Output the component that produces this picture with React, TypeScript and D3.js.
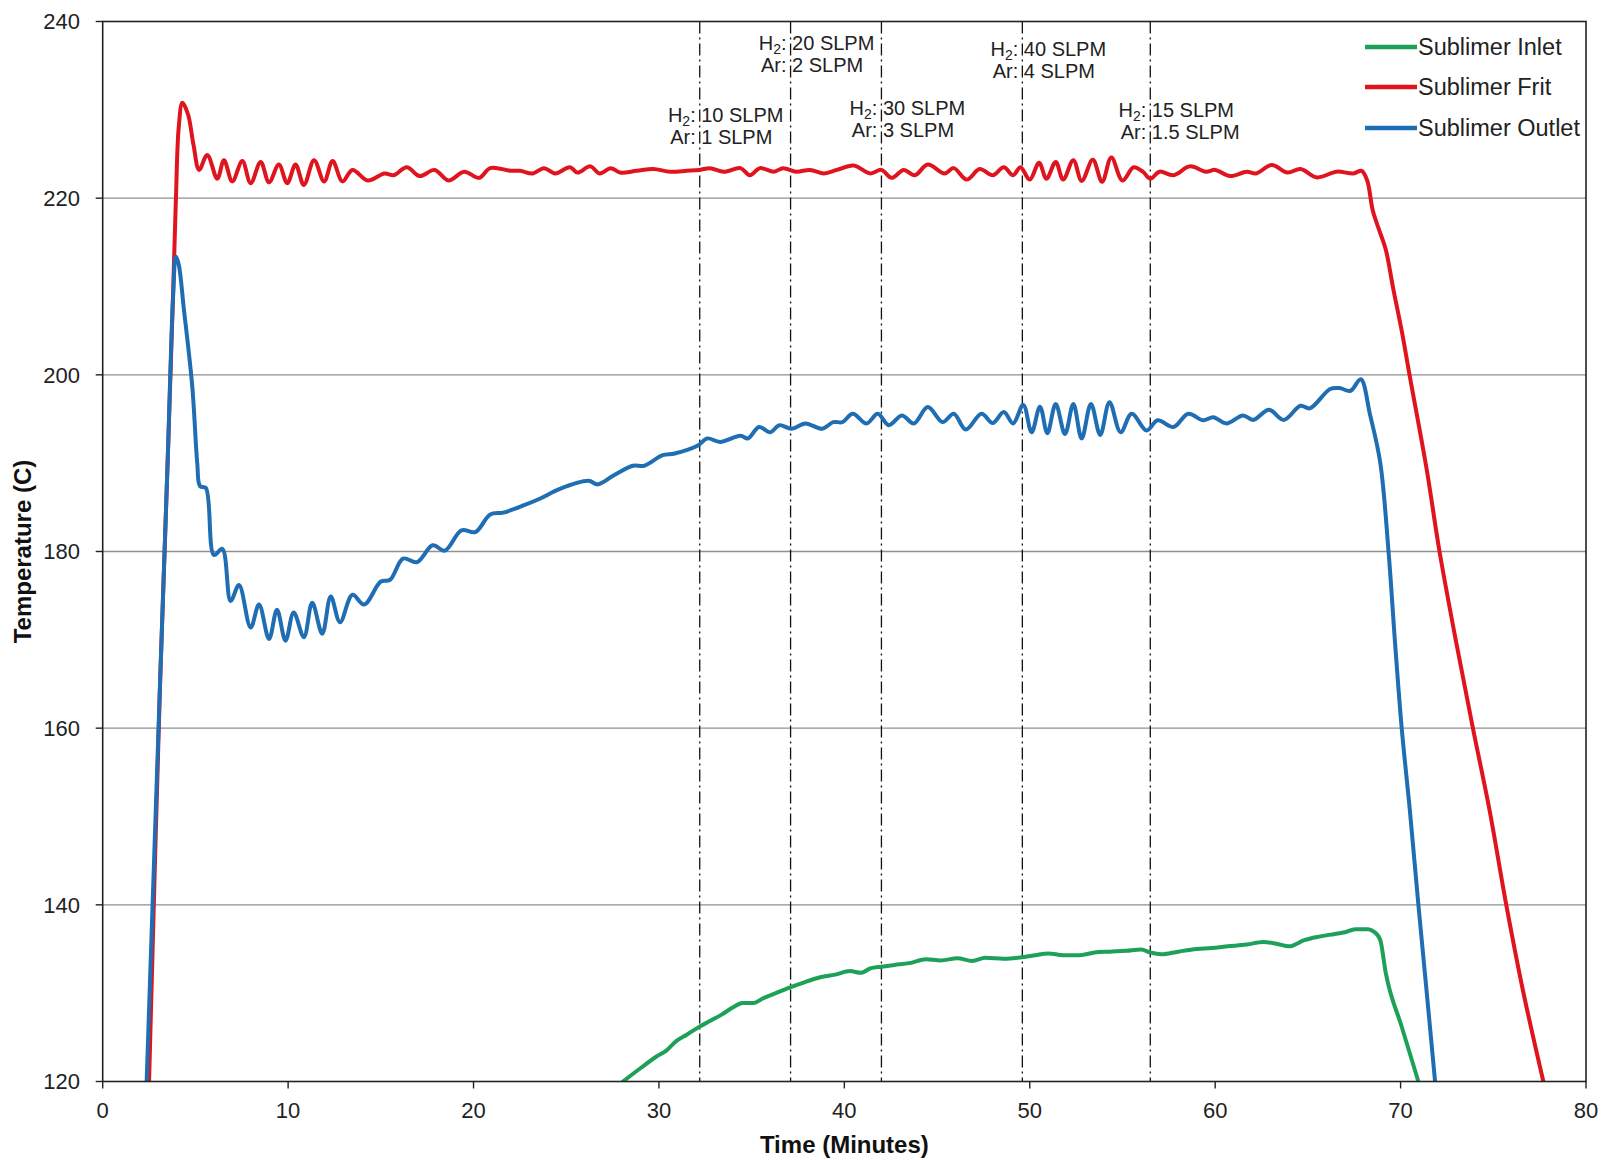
import React from "react";
import * as d3 from "d3";

// ---------- DATA ----------
const xTicks = [0, 10, 20, 30, 40, 50, 60, 70, 80];
const yTicks = [120, 140, 160, 180, 200, 220, 240];

const seriesNames = ["Sublimer Inlet", "Sublimer Frit", "Sublimer Outlet"];

const inletTime = [28.06, 29.0, 29.85, 30.4, 30.95, 31.5, 32.1, 32.8, 33.4, 34.0, 34.5, 35.1, 35.6, 36.3, 37.0, 37.8, 38.7, 39.5, 40.3, 40.9, 41.4, 42.0, 42.7, 43.5, 44.4, 45.2, 46.1, 46.9, 47.6, 48.6, 49.7, 50.3, 51.0, 51.8, 52.7, 53.5, 54.3, 55.2, 56.0, 56.5, 57.1, 58.0, 59.0, 59.8, 60.7, 61.7, 62.6, 63.3, 64.0, 64.8, 65.6, 66.45, 67.0, 67.55, 68.25, 68.6, 68.9, 69.2, 70.06, 70.96];
const inletTemp = [120, 121.5, 122.8, 123.5, 124.6, 125.3, 126.1, 126.9, 127.6, 128.4, 128.9, 128.9, 129.4, 130.0, 130.6, 131.2, 131.8, 132.1, 132.5, 132.3, 132.8, 133.0, 133.2, 133.4, 133.85, 133.7, 133.95, 133.65, 134.0, 133.9, 134.1, 134.3, 134.5, 134.3, 134.3, 134.6, 134.7, 134.8, 134.95, 134.6, 134.4, 134.7, 135.0, 135.1, 135.3, 135.5, 135.8, 135.6, 135.3, 136.0, 136.4, 136.7, 136.9, 137.25, 137.25, 136.9, 136.05, 132.3, 126.2, 120];

const fritTime = [2.5, 3.1, 3.5, 3.8, 3.95, 4.1, 4.3, 4.6, 4.9, 5.2, 5.64, 6.18, 6.54, 6.99, 7.53, 7.98, 8.52, 8.97, 9.5, 9.95, 10.4, 10.85, 11.4, 11.94, 12.4, 12.93, 13.47, 14.3, 15.2, 15.7, 16.4, 17.1, 17.9, 18.65, 19.5, 20.3, 20.9, 22.0, 22.5, 23.2, 23.8, 24.4, 25.2, 25.6, 26.3, 26.8, 27.4, 27.9, 28.8, 29.7, 30.6, 31.5, 32.2, 32.75, 33.5, 34.4, 34.9, 35.45, 36.2, 36.7, 37.4, 38.15, 38.9, 39.6, 40.5, 41.4, 42.0, 42.55, 43.2, 43.8, 44.5, 45.4, 45.9, 46.6, 47.3, 48.0, 48.6, 49.1, 49.5, 50.0, 50.5, 50.9, 51.4, 51.8, 52.35, 52.8, 53.4, 53.9, 54.4, 55.0, 55.6, 56.1, 56.5, 57.0, 57.75, 58.65, 59.5, 60.0, 60.8, 61.7, 62.2, 63.05, 63.9, 64.6, 65.5, 66.55, 67.45, 67.9, 68.2, 68.5, 68.86, 69.2, 69.6, 70.06, 70.5, 71.4, 72.1, 73.0, 73.9, 74.8, 75.7, 76.6, 77.7];
const fritTemp = [120, 165.5, 190, 209.5, 220, 228, 230.8, 229.5, 226, 223.2, 224.9, 222.2, 224.3, 221.9, 224.2, 221.7, 224.1, 221.8, 223.8, 221.7, 223.8, 221.5, 224.3, 221.9, 224.2, 221.9, 223.2, 222.0, 222.8, 222.6, 223.5, 222.5, 223.2, 222.0, 223.0, 222.3, 223.4, 223.1, 223.1, 222.8, 223.4, 222.8, 223.5, 222.9, 223.6, 222.8, 223.4, 222.9, 223.1, 223.3, 223.0, 223.1, 223.2, 223.4, 223.0, 223.4, 222.6, 223.4, 223.0, 223.4, 223.0, 223.2, 222.8, 223.2, 223.7, 222.8, 223.2, 222.3, 223.2, 222.6, 223.8, 222.8, 223.4, 222.1, 223.3, 222.6, 223.5, 222.6, 223.5, 222.1, 224.0, 222.2, 224.1, 222.1, 224.3, 221.95, 224.35, 221.85, 224.6, 222.0, 223.5, 223.0, 222.2, 223.0, 222.6, 223.6, 223.0, 223.2, 222.5, 223.0, 222.8, 223.75, 222.9, 223.3, 222.35, 223.0, 222.8, 223.1, 222.0, 218.6, 216.3, 214.2, 209.8, 205.0, 199.8, 189.4, 180.0, 169.7, 160.0, 150.7, 140.0, 130.3, 120];

const outletTime = [2.37, 3.1, 3.5, 3.8, 3.95, 4.1, 4.38, 4.83, 5.1, 5.25, 5.56, 6.0, 6.45, 6.9, 7.35, 7.98, 8.43, 8.97, 9.4, 9.86, 10.3, 10.85, 11.3, 11.84, 12.3, 12.8, 13.47, 14.1, 15.0, 15.5, 16.2, 16.95, 17.8, 18.45, 19.35, 20.1, 20.9, 21.6, 22.8, 23.6, 24.66, 26.2, 26.7, 27.55, 28.6, 29.2, 30.2, 30.85, 32.1, 32.6, 33.3, 34.4, 34.8, 35.4, 36.0, 36.5, 37.15, 37.9, 38.8, 39.4, 39.9, 40.45, 41.2, 41.8, 42.4, 43.1, 43.75, 44.5, 45.3, 45.9, 46.55, 47.4, 48.0, 48.6, 49.1, 49.65, 50.1, 50.55, 50.95, 51.4, 51.9, 52.35, 52.8, 53.3, 53.8, 54.3, 54.9, 55.5, 56.3, 56.9, 57.75, 58.55, 59.35, 59.9, 60.6, 61.5, 62.05, 62.9, 63.7, 64.6, 65.1, 66.2, 66.7, 67.3, 67.85, 68.35, 68.9, 69.35, 69.7, 70.06, 70.5, 70.96, 71.4, 71.86];
const outletTemp = [120, 165.5, 190, 209, 213.4, 212.5, 207.4, 198.7, 190.0, 187.4, 187.2, 179.6, 180.3, 174.4, 176.2, 171.4, 174.0, 170.1, 173.4, 169.9, 173.1, 170.3, 174.2, 170.7, 174.9, 172.0, 175.1, 174.0, 176.6, 176.8, 179.2, 178.8, 180.7, 180.1, 182.4, 182.2, 184.2, 184.4, 185.3, 186.0, 187.1, 188.0, 187.6, 188.6, 189.7, 189.7, 190.9, 191.1, 192.0, 192.8, 192.4, 193.1, 192.8, 194.1, 193.5, 194.3, 193.9, 194.5, 193.9, 194.65, 194.65, 195.6, 194.5, 195.6, 194.3, 195.4, 194.5, 196.35, 194.65, 195.6, 193.8, 195.6, 194.55, 195.8, 194.5, 196.6, 193.5, 196.4, 193.4, 196.7, 193.3, 196.7, 192.8, 196.7, 193.2, 196.9, 193.5, 195.6, 193.7, 194.85, 194.1, 195.6, 194.85, 195.2, 194.5, 195.4, 194.9, 196.05, 194.9, 196.5, 196.2, 198.4, 198.5, 198.2, 199.5, 195.5, 190.1, 180.0, 169.7, 160.0, 150.7, 140.0, 130.3, 120];

const flowTimes = [32.2, 37.1, 42.0, 49.6, 56.5];
const h2Flows = ["10 SLPM", "20 SLPM", "30 SLPM", "40 SLPM", "15 SLPM"];
const arFlows = ["1 SLPM", "2 SLPM", "3 SLPM", "4 SLPM", "1.5 SLPM"];
const labelTemps = [228.6, 236.8, 229.4, 236.1, 229.2];

// ---------- STYLE ----------
const W = 1602;
const H = 1160;
const PL = 102.7, PR = 1586, PT = 21.5, PB = 1081.5;
const colors = ["#1DA057", "#E0141E", "#1F6DB2"];
const FONT = "'Liberation Sans', Arial, Helvetica, sans-serif";

export default function App() {
  const x = d3.scaleLinear().domain([0, 80]).range([PL, PR]);
  const y = d3.scaleLinear().domain([120, 240]).range([PB, PT]);

  const mk = (ts: number[], vs: number[]) => ts.map((t, i) => [t, vs[i]] as [number, number]);
  const series = [mk(inletTime, inletTemp), mk(fritTime, fritTemp), mk(outletTime, outletTemp)];

  const smooth = d3
    .line<[number, number]>()
    .x((d) => x(d[0]))
    .y((d) => y(d[1]))
    .curve(d3.curveCatmullRom.alpha(0.5));
  const mono = d3
    .line<[number, number]>()
    .x((d) => x(d[0]))
    .y((d) => y(d[1]))
    .curve(d3.curveMonotoneX);

  const legendY = [47, 87, 128];

  return (
    <svg
      width={W}
      height={H}
      style={{ position: "absolute", left: 0, top: 0, background: "#fff" }}
      fontFamily={FONT}
    >
      <defs>
        <clipPath id="plot">
          <rect x={PL} y={PT} width={PR - PL} height={PB - PT} />
        </clipPath>
      </defs>
      <rect x={0} y={0} width={W} height={H} fill="#fff" />

      {/* gridlines */}
      {yTicks
        .filter((v) => v > 120 && v < 240)
        .map((v) => (
          <line key={"g" + v} x1={PL} x2={PR} y1={y(v)} y2={y(v)} stroke="#8f8f8f" strokeWidth={1.3} />
        ))}

      {/* flow change markers */}
      {flowTimes.map((t, i) => (
        <line
          key={"f" + i}
          x1={x(t)}
          x2={x(t)}
          y1={PT}
          y2={PB}
          stroke="#111"
          strokeWidth={1.3}
          strokeDasharray="12,4,2,4"
        />
      ))}

      {/* series */}
      <g clipPath="url(#plot)">
        {series.map((s, i) => (
          <path
            key={"s" + i}
            d={(i === 0 ? mono(s) : smooth(s)) || ""}
            fill="none"
            stroke={colors[i]}
            strokeWidth={4}
            strokeLinejoin="round"
            strokeLinecap="round"
          />
        ))}
      </g>

      {/* frame */}
      <rect x={PL} y={PT} width={PR - PL} height={PB - PT} fill="none" stroke="#222" strokeWidth={1.6} />

      {/* y ticks */}
      {yTicks.map((v) => (
        <g key={"yt" + v}>
          <line x1={PL - 7} x2={PL} y1={y(v)} y2={y(v)} stroke="#222" strokeWidth={1.4} />
          <text x={80} y={y(v)} dy="0.36em" textAnchor="end" fontSize={22} fill="#222">
            {v}
          </text>
        </g>
      ))}
      {/* x ticks */}
      {xTicks.map((v) => (
        <g key={"xt" + v}>
          <line x1={x(v)} x2={x(v)} y1={PB} y2={PB + 7} stroke="#222" strokeWidth={1.4} />
          <text x={x(v)} y={1118} textAnchor="middle" fontSize={22} fill="#222">
            {v}
          </text>
        </g>
      ))}

      {/* axis titles */}
      <text x={(PL + PR) / 2} y={1153} textAnchor="middle" fontSize={24} fontWeight="bold" fill="#111">
        Time (Minutes)
      </text>
      <text
        transform={`translate(30.5, ${(PT + PB) / 2}) rotate(-90)`}
        textAnchor="middle"
        fontSize={24}
        fontWeight="bold"
        fill="#111"
      >
        Temperature (C)
      </text>

      {/* annotations */}
      {flowTimes.map((t, i) => {
        const lx = x(t);
        const by = y(labelTemps[i]);
        return (
          <g key={"a" + i} fontSize={20} fill="#222">
            <text x={lx - 4} y={by} textAnchor="end">
              <tspan>H</tspan>
              <tspan dy={4} fontSize={14}>2</tspan>
              <tspan dy={-4}>:</tspan>
            </text>
            <text x={lx + 1.5} y={by} textAnchor="start">
              {h2Flows[i]}
            </text>
            <text x={lx - 4} y={by + 22} textAnchor="end">
              Ar:
            </text>
            <text x={lx + 1.5} y={by + 22} textAnchor="start">
              {arFlows[i]}
            </text>
          </g>
        );
      })}

      {/* legend */}
      {seriesNames.map((n, i) => (
        <g key={"l" + i}>
          <line x1={1365} x2={1417} y1={legendY[i]} y2={legendY[i]} stroke={colors[i]} strokeWidth={4.5} />
          <text x={1418} y={legendY[i] + 8} fontSize={23.5} fill="#222">
            {n}
          </text>
        </g>
      ))}
    </svg>
  );
}
